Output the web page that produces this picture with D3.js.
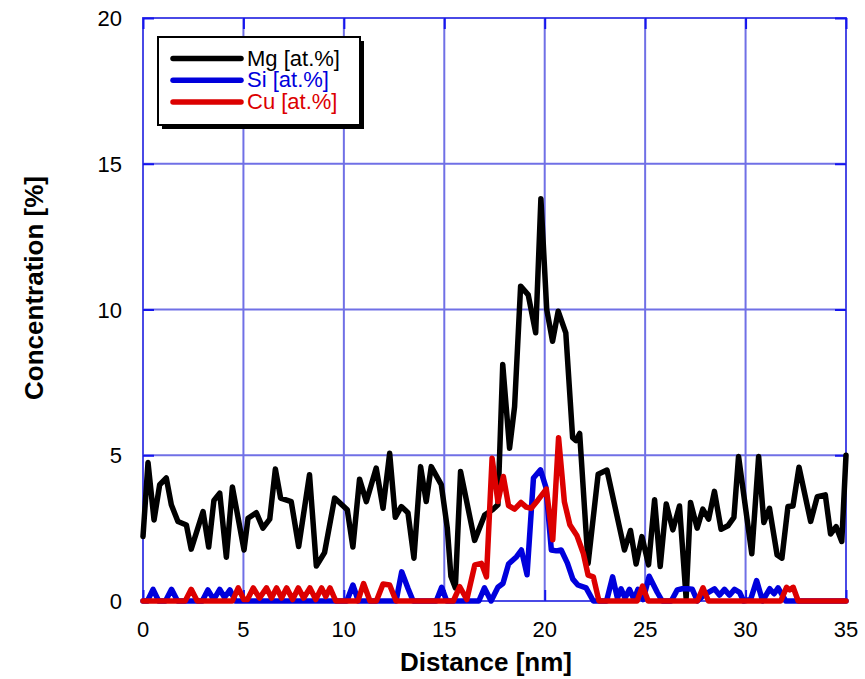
<!DOCTYPE html>
<html>
<head>
<meta charset="utf-8">
<script src="https://cdn.jsdelivr.net/npm/d3@7/dist/d3.min.js"></script>
<style>
  html, body { margin: 0; padding: 0; background: #fff; }
  svg { display: block; }
  text { font-family: "Liberation Sans", Arial, sans-serif; }
</style>
</head>
<body>
<svg id="chart" width="865" height="679"></svg>
<script>
// Line-scan profile: [distance nm, concentration at.%]
const mgProfile = [
  [0, 2.21], [0.25, 4.75], [0.55, 2.78], [0.83, 3.99], [1.16, 4.22], [1.41, 3.30],
  [1.74, 2.73], [2.16, 2.61], [2.40, 1.78], [2.99, 3.07], [3.27, 1.85], [3.53, 3.45],
  [3.82, 3.70], [4.15, 1.50], [4.45, 3.91], [5.03, 1.75], [5.23, 2.84], [5.64, 3.03],
  [5.97, 2.50], [6.31, 2.81], [6.59, 4.53], [6.85, 3.53], [7.38, 3.41], [7.75, 1.87],
  [8.29, 4.33], [8.63, 1.20], [9.04, 1.66], [9.54, 3.53], [10.17, 3.13], [10.45, 1.85],
  [10.78, 4.18], [11.12, 3.41], [11.61, 4.56], [11.95, 3.18], [12.28, 5.07], [12.56, 2.87],
  [12.86, 3.24], [13.19, 3.03], [13.49, 1.47], [13.82, 4.61], [14.10, 3.41], [14.35, 4.61],
  [14.85, 3.99], [15.15, 2.50], [15.33, 0.85], [15.55, 0.45], [15.81, 4.44], [16.51, 2.08],
  [17.01, 2.95], [17.40, 3.13], [17.67, 3.30], [17.91, 8.11], [18.25, 5.24], [18.50, 6.67],
  [18.80, 10.8], [19.18, 10.5], [19.55, 9.2], [19.81, 13.8], [20.10, 10.0], [20.39, 8.91],
  [20.67, 9.94], [21.05, 9.2], [21.39, 5.6], [21.56, 5.5], [21.74, 5.75], [22.16, 1.29],
  [22.66, 4.35], [23.10, 4.49], [23.97, 1.75], [24.27, 2.42], [24.55, 1.27], [24.84, 2.21],
  [25.17, 1.24], [25.47, 3.47], [25.75, 1.18], [26.05, 3.33], [26.38, 2.44], [26.71, 3.26],
  [27.04, 0.09], [27.26, 3.38], [27.59, 2.50], [27.87, 3.15], [28.16, 2.81], [28.45, 3.76],
  [28.78, 2.46], [29.12, 2.58], [29.42, 2.87], [29.65, 4.96], [30.31, 1.62], [30.65, 4.96],
  [30.91, 2.69], [31.19, 3.18], [31.57, 1.58], [31.81, 1.47], [32.11, 3.24], [32.36, 3.26],
  [32.66, 4.59], [33.24, 2.73], [33.57, 3.58], [33.97, 3.64], [34.23, 2.30], [34.51, 2.55],
  [34.79, 2.04], [35.0, 5.0]
];

const siProfile = [
  [0, 0], [0.22, 0], [0.5, 0.4], [0.78, 0], [1.12, 0], [1.42, 0.4], [1.72, 0], [2.95, 0],
  [3.23, 0.38], [3.52, 0.05], [3.82, 0.4], [4.06, 0.12], [4.33, 0.38], [4.6, 0], [10.15, 0],
  [10.45, 0.55], [10.72, 0], [12.6, 0], [12.88, 1.0], [13.2, 0.42], [13.45, 0], [14.6, 0],
  [14.87, 0.47], [15.12, 0], [16.72, 0], [17.0, 0.45], [17.33, 0], [17.67, 0.47], [17.92, 0.6],
  [18.2, 1.27], [18.6, 1.52], [18.84, 1.75], [19.12, 0.9], [19.44, 4.22], [19.79, 4.5],
  [20.06, 3.9], [20.33, 1.75], [20.58, 1.72], [20.82, 1.75], [21.13, 1.3], [21.4, 0.75],
  [21.65, 0.55], [22.06, 0.45], [22.42, 0], [23.08, 0], [23.38, 0.83], [23.62, 0.1],
  [23.8, 0.42], [24.0, 0.1], [24.22, 0.4], [24.45, 0.05], [24.64, 0.4], [24.9, 0.05],
  [25.2, 0.85], [25.6, 0.3], [25.85, 0], [26.3, 0], [26.6, 0.38], [26.85, 0.42], [27.1, 0.42],
  [27.35, 0.4], [27.6, 0], [27.85, 0.15], [28.15, 0.3], [28.45, 0.42], [28.7, 0.2],
  [28.95, 0.4], [29.2, 0.2], [29.45, 0.4], [29.7, 0.3], [29.9, 0], [30.25, 0.05],
  [30.55, 0.7], [30.85, 0], [31.2, 0.42], [31.42, 0.25], [31.62, 0.45], [32.0, 0], [35, 0]
];

const cuProfile = [
  [0, 0], [2.1, 0], [2.4, 0.4], [2.7, 0], [4.45, 0], [4.74, 0.45], [5.02, 0.05], [5.2, 0.05],
  [5.49, 0.45], [5.8, 0.1], [6.15, 0.45], [6.4, 0.1], [6.65, 0.45], [6.9, 0.1], [7.15, 0.45],
  [7.45, 0.05], [7.73, 0.45], [8.0, 0.1], [8.31, 0.45], [8.6, 0.05], [8.89, 0.45], [9.1, 0.15],
  [9.31, 0.45], [9.6, 0], [10.7, 0], [10.98, 0.6], [11.3, 0], [11.62, 0], [11.95, 0.58],
  [12.28, 0.55], [12.6, 0], [15.45, 0], [15.77, 0.49], [16.12, 0.05], [16.52, 1.24],
  [16.85, 1.29], [17.1, 0.83], [17.38, 4.9], [17.67, 3.41], [17.94, 4.27], [18.2, 3.27],
  [18.5, 3.15], [18.82, 3.38], [19.08, 3.22], [19.33, 3.18], [19.65, 3.45], [20.08, 3.84],
  [20.4, 2.1], [20.69, 5.6], [20.98, 3.4], [21.25, 2.62], [21.6, 2.25], [21.92, 1.64],
  [22.16, 0.89], [22.42, 0.83], [22.7, 0], [24.6, 0], [24.87, 0.51], [25.15, 0], [27.6, 0],
  [27.88, 0.45], [28.15, 0], [31.75, 0], [32.04, 0.47], [32.2, 0.38], [32.37, 0.47],
  [32.62, 0], [35, 0]
];

const seriesNames = ["Mg [at.%]", "Si [at.%]", "Cu [at.%]"];
const seriesColors = ["#000000", "#0000dc", "#dc0000"];
const xTicks = [0, 5, 10, 15, 20, 25, 30, 35];
const yTicks = [0, 5, 10, 15, 20];
const xTitle = "Distance [nm]";
const yTitle = "Concentration [%]";

const svg = d3.select("#chart");
const plot = { left: 143, right: 846, top: 18, bottom: 601 };

const x = d3.scaleLinear().domain([0, 35]).range([plot.left, plot.right]);
const y = d3.scaleLinear().domain([0, 20]).range([plot.bottom, plot.top]);

// grid
const grid = svg.append("g");
grid.selectAll("line.gx").data(xTicks).join("line")
  .attr("x1", d => x(d)).attr("x2", d => x(d))
  .attr("y1", plot.top).attr("y2", plot.bottom)
  .attr("stroke", "#7070e6").attr("stroke-width", 2);
grid.selectAll("line.gy").data(yTicks).join("line")
  .attr("x1", plot.left).attr("x2", plot.right)
  .attr("y1", d => y(d)).attr("y2", d => y(d))
  .attr("stroke", "#7070e6").attr("stroke-width", 2);

// frame
svg.append("rect")
  .attr("x", plot.left).attr("y", plot.top)
  .attr("width", plot.right - plot.left).attr("height", plot.bottom - plot.top)
  .attr("fill", "none").attr("stroke", "#4a4ae6").attr("stroke-width", 2);

// inward tick marks on all four sides
const axisColor = "#1515ee";
const tickLen = 11;
const bottomAxis = d3.axisBottom(x).tickValues(xTicks).tickSize(-tickLen).tickFormat("");
const topAxis = d3.axisTop(x).tickValues(xTicks).tickSize(-tickLen).tickFormat("");
const leftAxis = d3.axisLeft(y).tickValues(yTicks).tickSize(-tickLen).tickFormat("");
const rightAxis = d3.axisRight(y).tickValues(yTicks).tickSize(-tickLen).tickFormat("");
[[bottomAxis, `translate(0,${plot.bottom})`], [topAxis, `translate(0,${plot.top})`],
 [leftAxis, `translate(${plot.left},0)`], [rightAxis, `translate(${plot.right},0)`]]
  .forEach(([ax, tr]) => {
    const g = svg.append("g").attr("transform", tr).call(ax);
    g.select(".domain").remove();
    g.selectAll("line").attr("stroke", axisColor).attr("stroke-width", 2);
  });

// tick labels
svg.append("g").selectAll("text").data(xTicks).join("text")
  .attr("x", d => x(d)).attr("y", 637)
  .attr("text-anchor", "middle")
  .attr("font-size", 22).attr("fill", "#000")
  .text(d => d);
svg.append("g").selectAll("text").data(yTicks).join("text")
  .attr("x", 122).attr("y", d => y(d) + 8)
  .attr("text-anchor", "end")
  .attr("font-size", 22).attr("fill", "#000")
  .text(d => d);

// axis titles
svg.append("text")
  .attr("x", 486).attr("y", 671)
  .attr("text-anchor", "middle")
  .attr("font-size", 26).attr("font-weight", "bold")
  .text(xTitle);
svg.append("text")
  .attr("transform", "translate(43,288) rotate(-90)")
  .attr("text-anchor", "middle")
  .attr("font-size", 26).attr("font-weight", "bold")
  .text(yTitle);

// profiles
const line = d3.line().x(d => x(d[0])).y(d => y(d[1]));
const profiles = [mgProfile, siProfile, cuProfile];
svg.append("g").selectAll("path").data(profiles).join("path")
  .attr("d", line)
  .attr("fill", "none")
  .attr("stroke", (d, i) => seriesColors[i])
  .attr("stroke-width", 5.5)
  .attr("stroke-linejoin", "round")
  .attr("stroke-linecap", "round");

// legend with drop shadow
const lg = svg.append("g");
const box = { x: 158, y: 37, w: 202, h: 88 };
lg.append("rect").attr("x", box.x + 4).attr("y", box.y + 4)
  .attr("width", box.w).attr("height", box.h).attr("fill", "#000");
lg.append("rect").attr("x", box.x).attr("y", box.y)
  .attr("width", box.w).attr("height", box.h)
  .attr("fill", "#fff").attr("stroke", "#000").attr("stroke-width", 2);
const rows = lg.selectAll("g.row").data(seriesNames).join("g")
  .attr("transform", (d, i) => `translate(0,${58.5 + i * 21.7})`);
rows.append("line")
  .attr("x1", 173).attr("x2", 241).attr("y1", 0).attr("y2", 0)
  .attr("stroke", (d, i) => seriesColors[i])
  .attr("stroke-width", 5.5).attr("stroke-linecap", "round");
rows.append("text")
  .attr("x", 247).attr("y", 7)
  .attr("font-size", 22)
  .attr("fill", (d, i) => seriesColors[i])
  .text(d => d);
</script>
</body>
</html>
